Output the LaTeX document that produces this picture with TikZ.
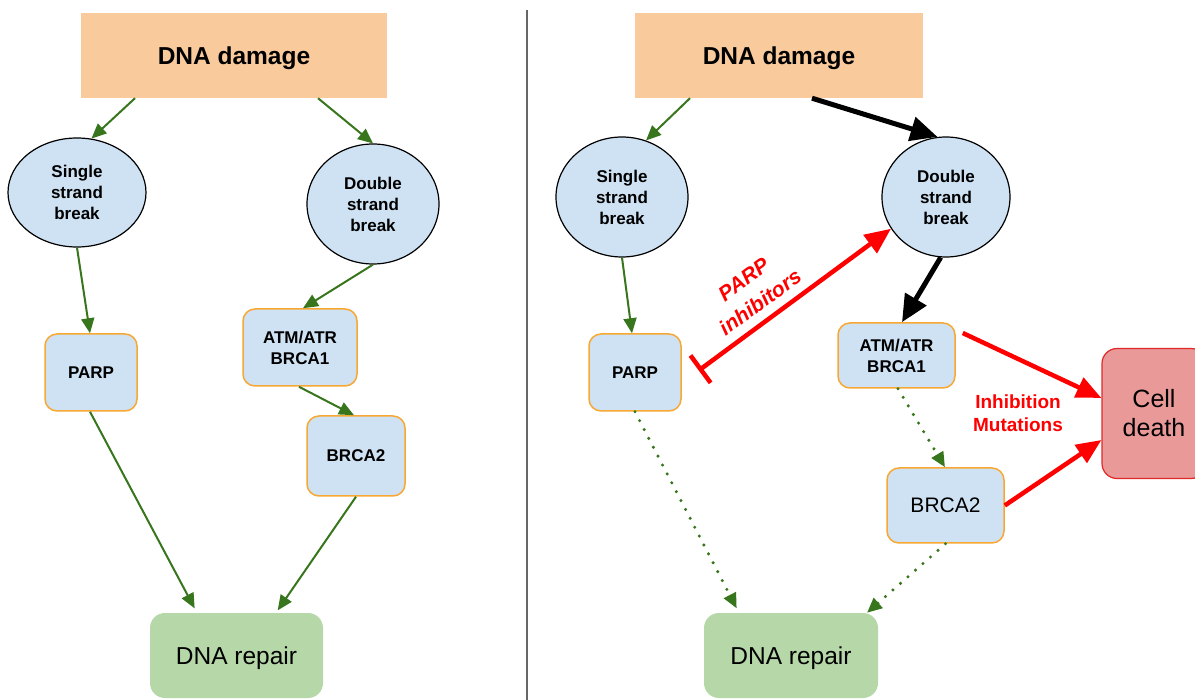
\documentclass[tikz,border=0pt]{standalone}
\usepackage{fontspec}
\setmainfont{Liberation Sans}
\usetikzlibrary{shapes.geometric,arrows.meta}
\definecolor{orangefill}{HTML}{F9CB9C}
\definecolor{bluefill}{HTML}{CFE2F3}
\definecolor{greenfill}{HTML}{B6D7A8}
\definecolor{cellfill}{HTML}{EA9999}
\definecolor{cellborder}{HTML}{E02828}
\definecolor{boxorange}{HTML}{F8A832}
\definecolor{darkgreen}{HTML}{38761D}
\definecolor{divgray}{HTML}{666666}
\tikzset{
  dmg/.style={fill=orangefill, inner sep=0pt, minimum height=85pt, text depth=0pt,
    font=\fontsize{24.5}{28}\selectfont\bfseries},
  brk/.style={ellipse, draw=black, line width=1.2pt, fill=bluefill, inner sep=0pt,
    align=center, font=\fontsize{17}{21}\selectfont\bfseries},
  prot/.style={rectangle, rounded corners=12pt, draw=boxorange, line width=1.5pt,
    fill=bluefill, inner sep=0pt, align=center,
    font=\fontsize{17}{21}\selectfont\bfseries},
  protreg/.style={prot, font=\fontsize{21}{25}\selectfont},
  repbox/.style={rectangle, rounded corners=15pt, fill=greenfill, inner sep=0pt, text depth=0pt,
    minimum width=173pt, minimum height=85pt, font=\fontsize{24.5}{28}\selectfont},
  cellbox/.style={rectangle, rounded corners=15pt, draw=cellborder, line width=1.2pt,
    fill=cellfill, inner sep=0pt, align=center, font=\fontsize{25}{29}\selectfont},
  garrow/.style={draw=darkgreen, line width=2pt, -{Triangle[length=15pt,width=13pt]}},
  gdot/.style={draw=darkgreen, line width=3.4pt, line cap=round,
    dash pattern=on 0pt off 10pt, -{Triangle[length=15pt,width=13pt]}},
  barrow/.style={draw=black, line width=5pt, -{Triangle[length=27pt,width=24pt]}},
  rarrow/.style={draw=red, line width=4.5pt, -{Triangle[length=25pt,width=21pt]}},
  rlabel/.style={text=red, align=center, inner sep=0pt}
}
\begin{document}
\begin{tikzpicture}[x=1pt,y=-1pt]
\fill[white] (0,0) rectangle (1195,700);
\useasboundingbox (0,0) rectangle (1195,700);

% divider
\coordinate (divtop) at (527,10);
\coordinate (divbot) at (527,700);
\draw[divgray, line width=2pt] (divtop) -- (divbot);

% ---------- left panel ----------
\node[dmg, minimum width=306pt] (dd1) at (234,55.5) {DNA damage};
\node[brk, minimum width=138pt, minimum height=109pt] (ssb1) at (77,192.5) {Single\\strand\\break};
\node[brk, minimum width=132pt, minimum height=120pt] (dsb1) at (373,204) {Double\\strand\\break};
\node[prot, minimum width=92pt, minimum height=77pt] (parp1) at (91,372.5) {PARP};
\node[prot, minimum width=114pt, minimum height=77pt] (atm1) at (300,347.5) {ATM/ATR\\BRCA1};
\node[prot, minimum width=98pt, minimum height=80pt] (brcb1) at (356,456) {BRCA2};
\node[repbox] (rep1) at (236.5,655.5) {DNA repair};

\draw[garrow] ([xshift=-99pt]dd1.south) -- (ssb1.75);
\draw[garrow] ([xshift=84pt]dd1.south) -- (dsb1.north);
\draw[garrow] (ssb1.south) -- ([xshift=-1pt]parp1.north);
\draw[garrow] (dsb1.south) -- ([xshift=3pt]atm1.north);
\draw[garrow] ([xshift=-1pt]atm1.south) -- ([xshift=-2pt]brcb1.north);
\draw[garrow, shorten >=5pt] ([xshift=-1pt]parp1.south) -- ([xshift=-39.5pt]rep1.north);
\draw[garrow, shorten >=3pt] (brcb1.south) -- ([xshift=39.5pt]rep1.north);

% ---------- right panel ----------
\node[dmg, minimum width=288pt] (dd2) at (779,55.5) {DNA damage};
\node[brk, minimum width=132pt, minimum height=120pt] (ssb2) at (622,197) {Single\\strand\\break};
\node[brk, minimum width=128pt, minimum height=120pt] (dsb2) at (946,197) {Double\\strand\\break};
\node[prot, minimum width=92pt, minimum height=77pt] (parp2) at (635,372.5) {PARP};
\node[prot, minimum width=117pt, minimum height=65pt] (atm2) at (896.5,355.5) {ATM/ATR\\BRCA1};
\node[protreg, minimum width=117pt, minimum height=75pt] (brcb2) at (945.5,505.5) {BRCA2};
\node[repbox, minimum width=174pt] (rep2) at (791,655.5) {DNA repair};
\node[cellbox, minimum width=104pt, minimum height=130pt] (cell) at (1154,413.5) {Cell\\death};

\draw[garrow] ([xshift=-89pt]dd2.south) -- (ssb2.67);
\draw[barrow] ([xshift=33pt]dd2.south) -- (dsb2.98);
\draw[garrow] (ssb2.south) -- ([xshift=-3pt]parp2.north);
\draw[red, line width=4.5pt, {Bar[width=34pt,line width=4.5pt]}-{Triangle[length=26pt,width=22pt]}]
  ([xshift=17pt,yshift=2pt]parp2.east) -- (dsb2.210);
\draw[barrow] (dsb2.265) -- ([xshift=5.5pt]atm2.north);
\draw[gdot] ([xshift=1.5pt]atm2.south) -- ([xshift=-0.5pt]brcb2.north);
\draw[gdot, shorten >=5pt] (parp2.south) -- ([xshift=-52pt]rep2.north);
\draw[gdot] (brcb2.south) -- ([xshift=76pt]rep2.north);
\draw[rarrow] ([xshift=7pt,yshift=22.5pt]atm2.east) -- ([yshift=15.5pt]cell.west);
\draw[rarrow] (brcb2.east) -- ([yshift=-26.5pt]cell.west);

\node[rlabel, rotate=36, font=\fontsize{21}{28}\selectfont\bfseries\itshape] (pinh) at (752,291) {PARP\\inhibitors};
\node[rlabel, font=\fontsize{19}{23}\selectfont\bfseries] (inhmut) at (1018,413) {Inhibition\\Mutations};
\end{tikzpicture}
\end{document}
